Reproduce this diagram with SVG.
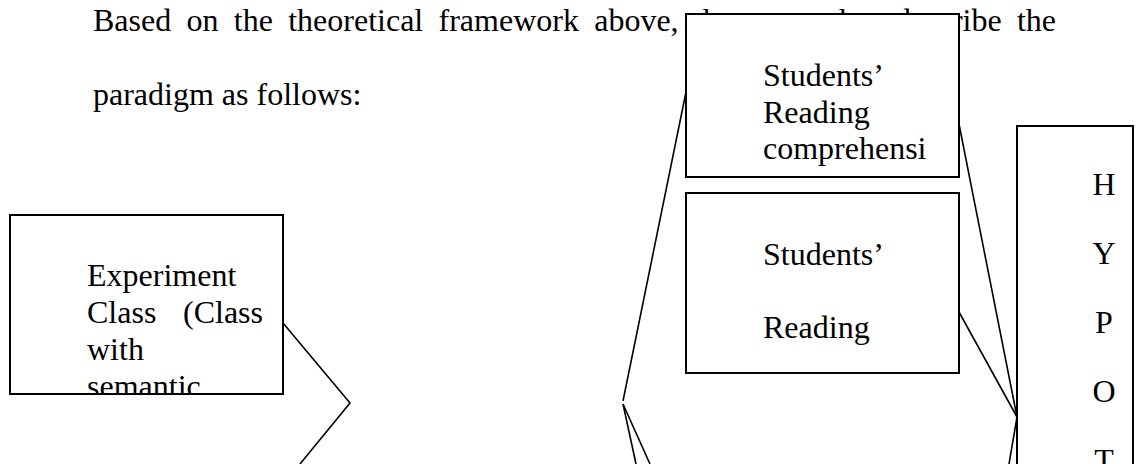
<svg xmlns="http://www.w3.org/2000/svg" width="1136" height="464" viewBox="0 0 1136 464">
  <style>
    .txt { font-family: "Liberation Serif", "Times New Roman", serif; font-size: 32px; fill: #000; }
    .box { fill: #fff; stroke: #000; stroke-width: 2; }
    .wire { fill: none; stroke: #000; stroke-width: 1.6; stroke-linejoin: miter; }
  </style>
  <defs>
    <clipPath id="clipExp"><rect x="11" y="216" width="271" height="177"/></clipPath>
    <clipPath id="clipRead1"><rect x="687" y="15" width="271" height="161"/></clipPath>
  </defs>
  <rect width="1136" height="464" fill="#fff"/>

  <!-- paragraph text (justified first line) -->
  <g id="paragraph">
    <text class="txt" x="93" y="31" word-spacing="7.3">Based on the theoretical framework above, the researcher describe the</text>
    <text class="txt" x="93" y="105">paradigm as follows:</text>
  </g>

  <!-- connectors -->
  <g id="connectors">
    <polyline class="wire" points="283,323 350,403 300,464"/>
    <line class="wire" x1="686" y1="92" x2="623" y2="401"/>
    <line class="wire" x1="623" y1="404" x2="636" y2="464"/>
    <line class="wire" x1="623" y1="404" x2="650" y2="464"/>
    <line class="wire" x1="959" y1="124" x2="1017" y2="417"/>
    <line class="wire" x1="959" y1="312" x2="1017" y2="417"/>
    <line class="wire" x1="1017" y1="417" x2="1009" y2="464"/>
  </g>

  <!-- experiment class -->
  <g id="experiment">
    <rect class="box" x="10" y="215" width="273" height="179"/>
    <g clip-path="url(#clipExp)">
      <text class="txt" x="87" y="286">Experiment</text>
      <text class="txt" x="87" y="323">Class</text>
      <text class="txt" x="263" y="323" text-anchor="end">(Class</text>
      <text class="txt" x="87" y="360">with</text>
      <text class="txt" x="87" y="397">semantic</text>
    </g>
  </g>

  <!-- reading comprehension result -->
  <g id="reading-comprehension">
    <rect class="box" x="686" y="14" width="273" height="163"/>
    <g clip-path="url(#clipRead1)">
      <text class="txt" x="763" y="86">Students’</text>
      <text class="txt" x="763" y="123">Reading</text>
      <text class="txt" x="763" y="159">comprehensi</text>
    </g>
  </g>

  <!-- students' reading -->
  <g id="students-reading">
    <rect class="box" x="686" y="193" width="273" height="180"/>
    <text class="txt" x="763" y="265">Students’</text>
    <text class="txt" x="763" y="338">Reading</text>
  </g>

  <!-- hypothesis column -->
  <g id="hypothesis">
    <rect class="box" x="1017" y="126" width="116" height="360"/>
    <text class="txt" x="1104" y="195" text-anchor="middle">H</text>
    <text class="txt" x="1104" y="264" text-anchor="middle">Y</text>
    <text class="txt" x="1104" y="333" text-anchor="middle">P</text>
    <text class="txt" x="1104" y="402" text-anchor="middle">O</text>
    <text class="txt" x="1104" y="471" text-anchor="middle">T</text>
  </g>
</svg>
